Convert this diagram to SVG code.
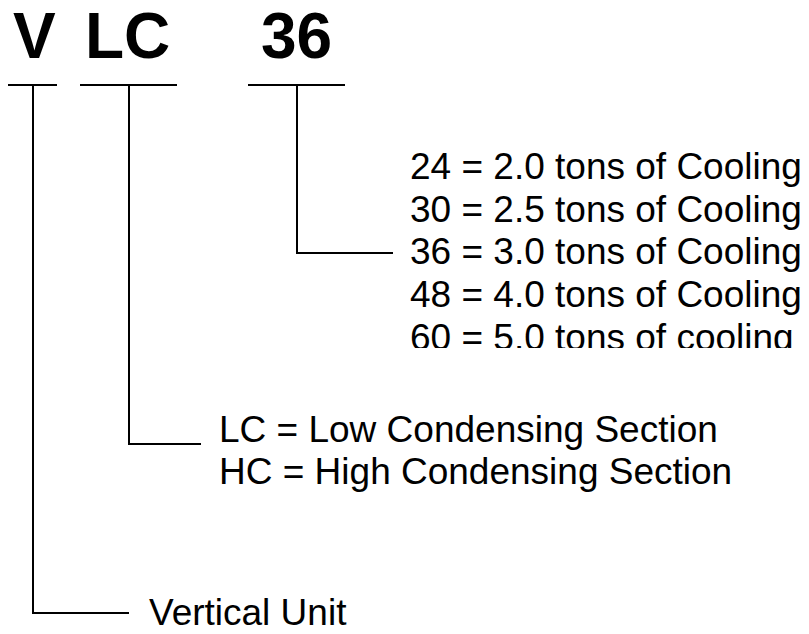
<svg xmlns="http://www.w3.org/2000/svg" width="809" height="634" viewBox="0 0 809 634">
<style>
.title{font-family:"Liberation Sans",Arial,sans-serif;font-weight:bold;font-size:64px;fill:#000}
.lbl{font-family:"Liberation Sans",Arial,sans-serif;font-size:37px;fill:#000}
.ln{stroke:#000;stroke-width:2;fill:none}
</style>
<defs>
<clipPath id="clipR"><rect x="400" y="140" width="409" height="208"/></clipPath>
</defs>
<rect width="809" height="634" fill="#fff"/>
<g id="code">
<text class="title" x="13" y="58">V</text>
<text class="title" x="85" y="58">LC</text>
<text class="title" x="261" y="58">36</text>
</g>
<g id="connectors">
<line class="ln" x1="8" y1="85" x2="57" y2="85"/>
<line class="ln" x1="80" y1="85" x2="177" y2="85"/>
<line class="ln" x1="248" y1="85" x2="345" y2="85"/>
<polyline class="ln" points="297,85 297,253 393,253"/>
<polyline class="ln" points="129,85 129,444 201,444"/>
<polyline class="ln" points="33,85 33,613 129,613"/>
</g>
<g id="tons" clip-path="url(#clipR)">
<text class="lbl" x="410" y="179">24 = 2.0 tons of Cooling</text>
<text class="lbl" x="410" y="222">30 = 2.5 tons of Cooling</text>
<text class="lbl" x="410" y="264">36 = 3.0 tons of Cooling</text>
<text class="lbl" x="410" y="307">48 = 4.0 tons of Cooling</text>
<text class="lbl" x="410" y="350">60 = 5.0 tons of cooling</text>
</g>
<g id="section">
<text class="lbl" x="219" y="442">LC = Low Condensing Section</text>
<text class="lbl" x="219" y="484">HC = High Condensing Section</text>
</g>
<g id="unit">
<text class="lbl" x="149" y="625">Vertical Unit</text>
</g>
</svg>
